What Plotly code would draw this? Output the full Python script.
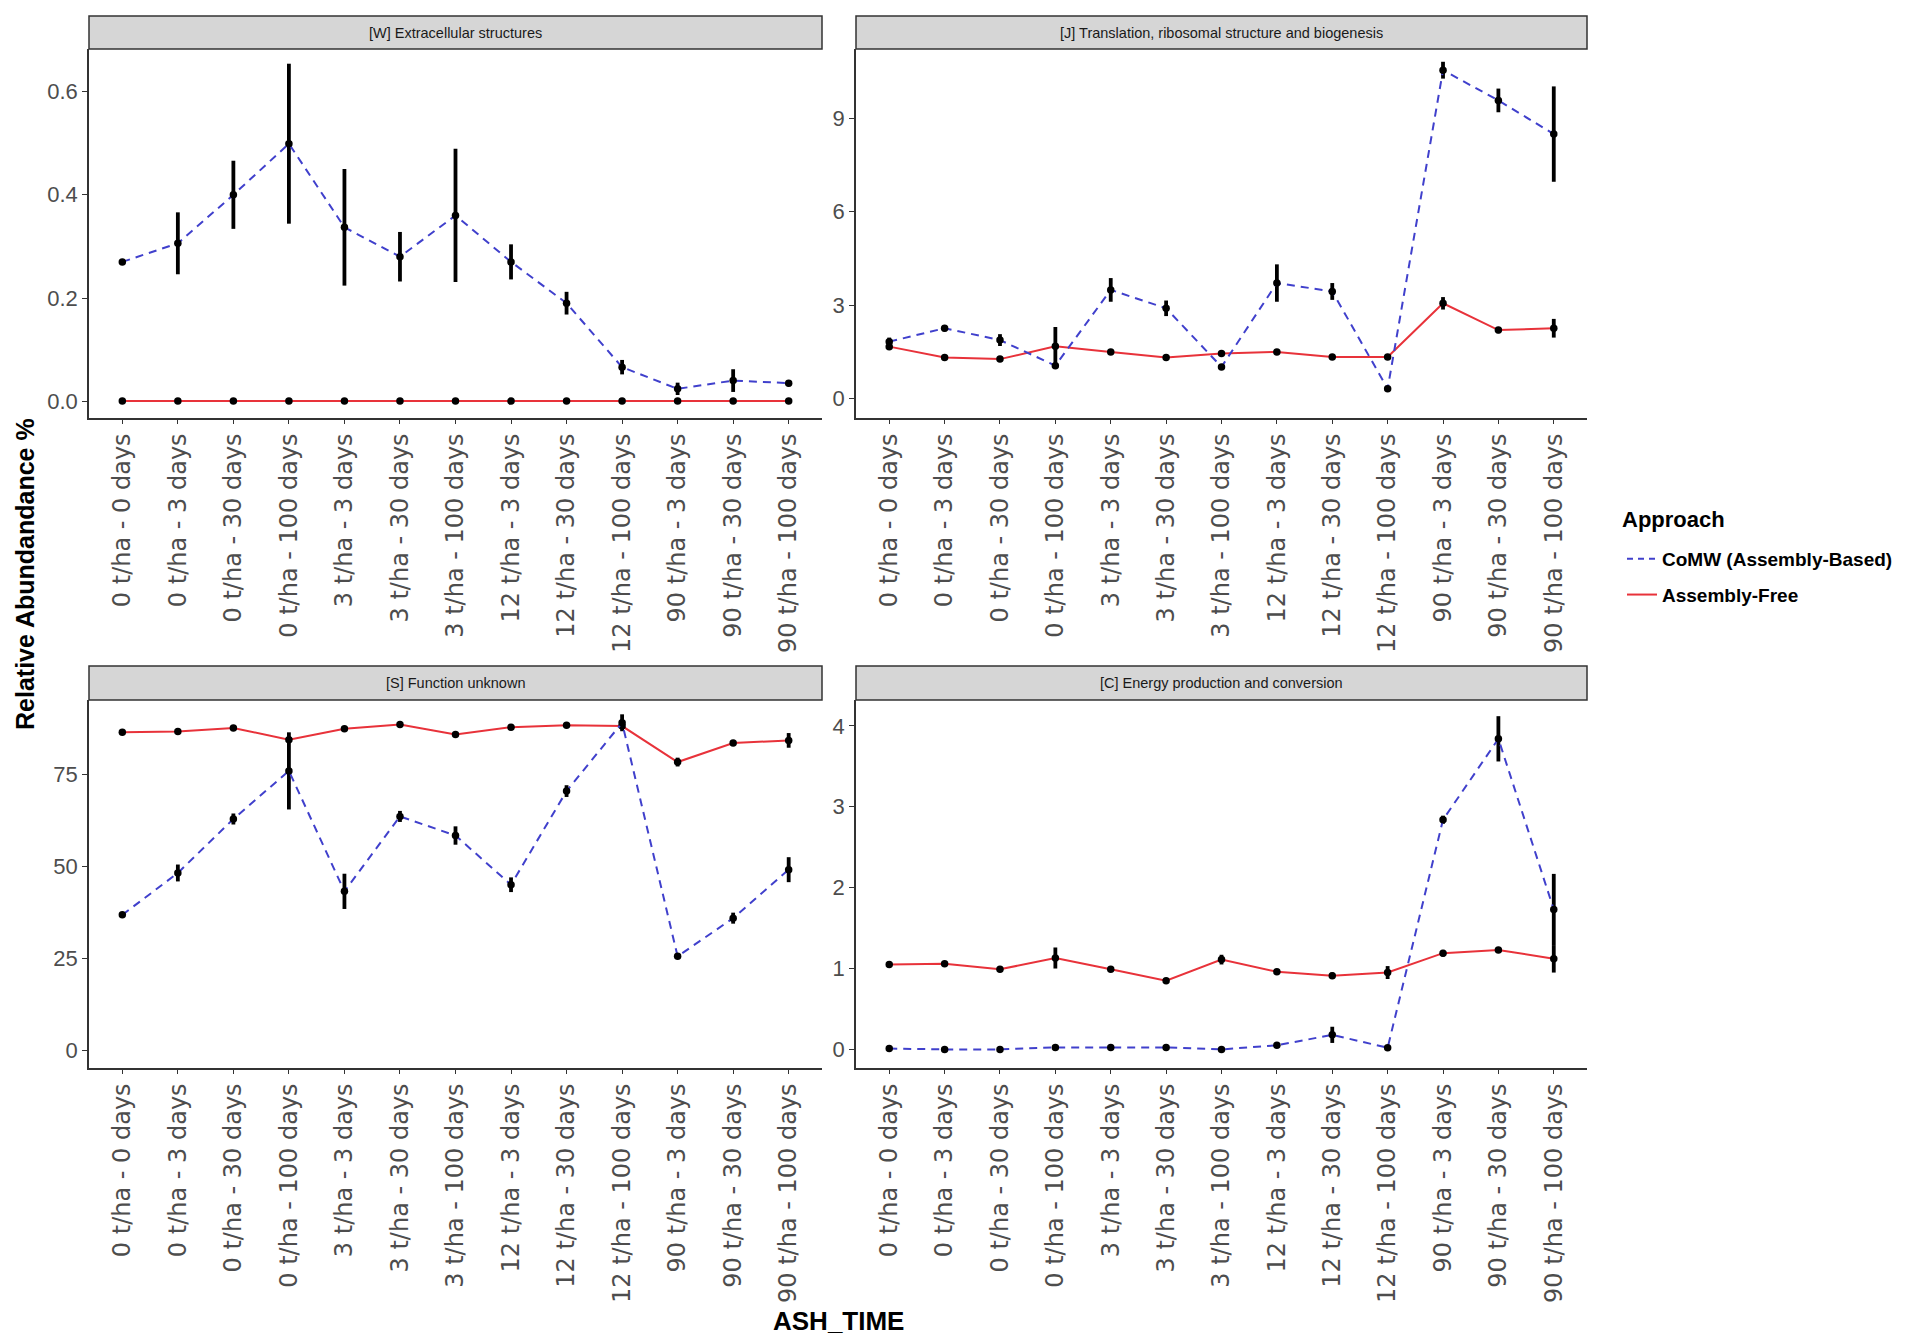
import plotly.graph_objects as go

categories = ["0 t/ha - 0 days", "0 t/ha - 3 days", "0 t/ha - 30 days", "0 t/ha - 100 days",
              "3 t/ha - 3 days", "3 t/ha - 30 days", "3 t/ha - 100 days",
              "12 t/ha - 3 days", "12 t/ha - 30 days", "12 t/ha - 100 days",
              "90 t/ha - 3 days", "90 t/ha - 30 days", "90 t/ha - 100 days"]

panel_titles = ["[W] Extracellular structures",
                "[J] Translation, ribosomal structure and biogenesis",
                "[S] Function unknown",
                "[C] Energy production and conversion"]

# [W] Extracellular structures
w_comw = [0.27, 0.306, 0.40, 0.499, 0.337, 0.28, 0.36, 0.27, 0.19, 0.066, 0.024, 0.04, 0.035]
w_comw_err = [0.004, 0.06, 0.066, 0.155, 0.113, 0.048, 0.129, 0.034, 0.022, 0.014, 0.012, 0.022, 0.006]
w_free = [0.0003] * 13
w_free_err = [0.0] * 13

# [J] Translation, ribosomal structure and biogenesis
j_comw = [1.83, 2.26, 1.88, 1.06, 3.49, 2.9, 1.02, 3.71, 3.44, 0.32, 10.54, 9.57, 8.49]
j_comw_err = [0.13, 0.1, 0.19, 0.06, 0.38, 0.25, 0.04, 0.6, 0.27, 0.03, 0.27, 0.38, 1.53]
j_free = [1.67, 1.32, 1.27, 1.68, 1.5, 1.32, 1.45, 1.5, 1.34, 1.34, 3.06, 2.2, 2.26]
j_free_err = [0.06, 0.05, 0.05, 0.62, 0.06, 0.04, 0.08, 0.05, 0.06, 0.05, 0.2, 0.1, 0.3]

# [S] Function unknown
s_comw = [36.8, 48.2, 62.9, 76.0, 43.2, 63.6, 58.4, 45.0, 70.5, 89.1, 25.5, 35.9, 49.1]
s_comw_err = [0.6, 2.3, 1.5, 10.5, 4.8, 1.5, 2.5, 2.0, 1.6, 2.3, 0.5, 1.5, 3.4]
s_free = [86.5, 86.7, 87.7, 84.5, 87.5, 88.6, 85.9, 87.9, 88.4, 88.2, 78.4, 83.6, 84.3]
s_free_err = [0.6, 0.5, 0.6, 0.8, 0.5, 0.5, 0.6, 0.5, 0.4, 0.6, 1.2, 0.8, 2.0]

# [C] Energy production and conversion
c_comw = [0.01, 0.0, 0.0, 0.025, 0.025, 0.025, 0.0, 0.05, 0.18, 0.02, 2.84, 3.84, 1.73]
c_comw_err = [0.01, 0.01, 0.01, 0.03, 0.02, 0.02, 0.01, 0.02, 0.1, 0.01, 0.05, 0.28, 0.44]
c_free = [1.05, 1.06, 0.99, 1.13, 0.99, 0.85, 1.11, 0.96, 0.91, 0.95, 1.19, 1.23, 1.12]
c_free_err = [0.02, 0.02, 0.03, 0.13, 0.03, 0.02, 0.06, 0.03, 0.04, 0.08, 0.04, 0.03, 0.17]

y_ranges = [[-0.0325, 0.6825], [-0.62, 11.22], [-4.9, 95.3], [-0.23, 4.32]]
y_ticks = [[0, 0.2, 0.4, 0.6], [0, 3, 6, 9], [0, 25, 50, 75], [0, 1, 2, 3, 4]]
y_ticktext = [["0.0", "0.2", "0.4", "0.6"], ["0", "3", "6", "9"], ["0", "25", "50", "75"],
              ["0", "1", "2", "3", "4"]]

panels = [(w_comw, w_comw_err, w_free, w_free_err),
          (j_comw, j_comw_err, j_free, j_free_err),
          (s_comw, s_comw_err, s_free, s_free_err),
          (c_comw, c_comw_err, c_free, c_free_err)]

W, H = 1910, 1338
OFF = 8  # page body margin


def px(x):
    return (x - OFF) / W


def py(y):
    return 1 - (y - OFF) / H


xdoms = [[px(89), px(822)], [px(856), px(1587)]]
ydoms = [[py(418), py(49)], [py(1068), py(700)]]
strip_y = [[py(49), py(16)], [py(700), py(666)]]

BLUE = "#4040CC"
RED = "#E8323A"
xs = list(range(len(categories)))

fig = go.Figure()
layout = {}
shapes = []
annotations = []

for i, (cm, cme, fr, fre) in enumerate(panels):
    n = i + 1
    xa = "x" if n == 1 else f"x{n}"
    ya = "y" if n == 1 else f"y{n}"
    col = i % 2
    row = i // 2
    for vals, errs, color, dash in [(fr, fre, RED, "solid"), (cm, cme, BLUE, "8px,6px")]:
        fig.add_trace(go.Scatter(
            x=xs, y=vals, mode="lines+markers", xaxis=xa, yaxis=ya, showlegend=False,
            line=dict(color=color, width=2, dash=dash),
            marker=dict(color="black", size=7.5),
            error_y=dict(type="data", array=errs, visible=True, color="black", thickness=3.8, width=0),
            hoverinfo="skip"))
    axis_common = dict(showline=True, linecolor="#333333", linewidth=1.6, ticks="outside",
                       tickcolor="#333333", tickwidth=1, showgrid=False, zeroline=False)
    layout["xaxis" if n == 1 else f"xaxis{n}"] = dict(
        domain=xdoms[col], anchor=ya, range=[-0.6, 12.6], tickvals=xs, ticktext=categories,
        tickangle=-90, tickfont=dict(family="DejaVu Sans", size=24, color="#4D4D4D"),
        ticklen=4, **axis_common)
    layout["yaxis" if n == 1 else f"yaxis{n}"] = dict(
        domain=ydoms[row], anchor=xa, range=y_ranges[i], tickvals=y_ticks[i], ticklen=5,
        ticktext=y_ticktext[i], tickfont=dict(family="Liberation Sans", size=22, color="#4D4D4D"),
        **axis_common)
    shapes.append(dict(type="rect", xref="paper", yref="paper",
                       x0=xdoms[col][0], x1=xdoms[col][1], y0=strip_y[row][0], y1=strip_y[row][1],
                       fillcolor="#D6D6D6", line=dict(color="#333333", width=1.5), layer="below"))
    annotations.append(dict(text=panel_titles[i], xref="paper", yref="paper",
                            x=(xdoms[col][0] + xdoms[col][1]) / 2,
                            y=(strip_y[row][0] + strip_y[row][1]) / 2,
                            showarrow=False, xanchor="center", yanchor="middle",
                            font=dict(family="Liberation Sans", size=14.5, color="#1A1A1A")))

# legend-only traces
fig.add_trace(go.Scatter(x=[None], y=[None], mode="lines", name="CoMW (Assembly-Based)",
                         legendgroup="a", line=dict(color=BLUE, width=2, dash="6px,5px")))
fig.add_trace(go.Scatter(x=[None], y=[None], mode="lines", name="Assembly-Free",
                         legendgroup="b", line=dict(color=RED, width=2)))

annotations.append(dict(text="<b>Relative Abundandance %</b>", xref="paper", yref="paper",
                        x=px(25), y=py(574), textangle=-90, showarrow=False,
                        xanchor="center", yanchor="middle",
                        font=dict(family="Liberation Sans", size=25, color="black")))
annotations.append(dict(text="<b>ASH_TIME</b>", xref="paper", yref="paper",
                        x=px(838), y=py(1321), showarrow=False,
                        xanchor="center", yanchor="middle",
                        font=dict(family="Liberation Sans", size=26, color="black")))
annotations.append(dict(text="<b>Approach</b>", xref="paper", yref="paper",
                        x=px(1620), y=py(519), showarrow=False,
                        xanchor="left", yanchor="middle",
                        font=dict(family="Liberation Sans", size=22, color="black")))

fig.update_layout(
    width=W, height=H, margin=dict(l=0, r=0, t=0, b=0),
    plot_bgcolor="white", paper_bgcolor="white",
    shapes=shapes, annotations=annotations,
    legend=dict(font=dict(family="Liberation Sans", size=19, color="black", weight="bold"),
                x=px(1622), y=py(540), xanchor="left", yanchor="top",
                itemwidth=30, tracegroupgap=8),
    **layout)

fig.write_html("out.html")
